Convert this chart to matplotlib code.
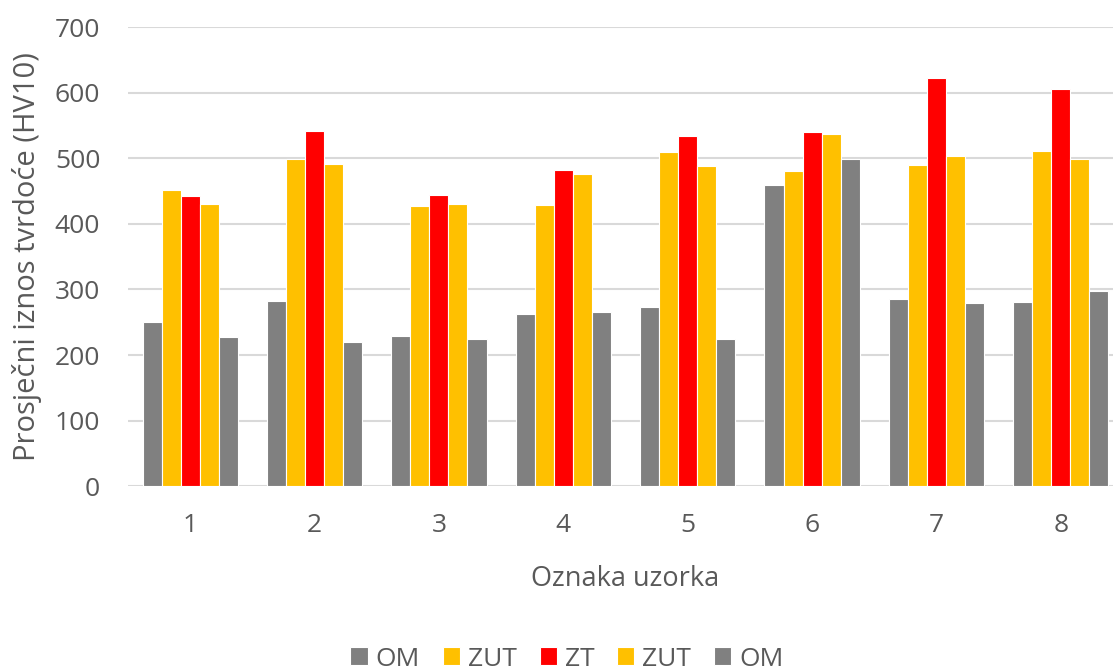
import numpy as np
import matplotlib.pyplot as plt

plt.rcParams['font.family'] = ['Open Sans', 'DejaVu Sans']

uzorci = ['1', '2', '3', '4', '5', '6', '7', '8']
serije = ['OM', 'ZUT', 'ZT', 'ZUT', 'OM']
boje = ['#808080', '#FFC000', '#FF0000', '#FFC000', '#808080']

om_lijevo = [250, 282, 229, 262, 273, 459, 286, 281]
zut_lijevo = [451, 499, 427, 429, 509, 480, 490, 511]
zt = [442, 541, 444, 482, 534, 540, 623, 606]
zut_desno = [430, 491, 430, 476, 488, 537, 503, 499]
om_desno = [227, 220, 224, 265, 224, 499, 279, 298]

vrijednosti = [om_lijevo, zut_lijevo, zt, zut_desno, om_desno]

fig = plt.figure(figsize=(11.13, 6.71), dpi=100)
ax = fig.add_axes([128 / 1113, 184.7 / 671, 995 / 1113, 459.3 / 671])

x = np.arange(len(uzorci))
w = 0.153
for i, (naziv, vals) in enumerate(zip(serije, vrijednosti)):
    ax.bar(x + (i - 2) * w, vals, width=w, color=boje[i], edgecolor='white',
           linewidth=0.8, label=naziv, zorder=3)

ax.set_xlim(-0.5, 7.5)
ax.set_ylim(0, 700)
ax.set_yticks(range(0, 701, 100))
ax.set_xticks(x)
ax.set_xticklabels(uzorci)
ax.grid(axis='y', color='#d9d9d9', linewidth=1.5, zorder=0)
for s in ax.spines.values():
    s.set_visible(False)
ax.tick_params(axis='both', length=0, labelsize=19, colors='#595959')
ax.tick_params(axis='x', pad=19)
ax.tick_params(axis='y', pad=20)

ax.set_ylabel('Prosječni iznos tvrdoće (HV10)', fontsize=21, color='#595959', labelpad=9)
ax.set_xlabel('Oznaka uzorka', fontsize=19.5, color='#595959', labelpad=20)

leg = ax.legend(loc='center', bbox_to_anchor=(567 / 1113, 12 / 671),
                bbox_transform=fig.transFigure, ncol=5, frameon=False,
                fontsize=19, handlelength=0.65, handleheight=0.65,
                handletextpad=0.3, columnspacing=0.87)
for t in leg.get_texts():
    t.set_color('#595959')

fig.savefig('out.png', dpi=100)
